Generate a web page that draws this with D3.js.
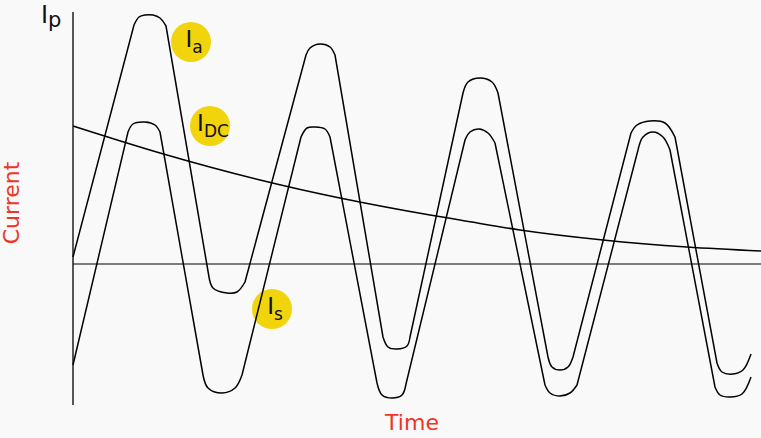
<!DOCTYPE html>
<html>
<head>
<meta charset="utf-8">
<script src="https://cdn.jsdelivr.net/npm/d3@7"></script>
<style>
  html, body { margin: 0; padding: 0; background: #f9f9f9; }
  svg { display: block; }
  text { font-family: "DejaVu Sans", sans-serif; }
</style>
</head>
<body>
<div id="container"></div>
<script>
// time (t) and current (i), arbitrary units
var iaTime = [0, 61, 66, 72, 80, 87, 93, 136, 140, 154, 164, 172, 233, 237, 247, 257, 262,
  310, 315, 324, 334, 337, 390, 395, 407, 419, 425, 475, 479, 487, 495, 500,
  558, 564, 577, 592, 602, 644, 649, 660, 670, 678];
var iaValue = [7, 239, 247, 249, 249, 246, 238, -13, -24, -29, -28, -18, 209, 216, 220, 217, 209,
  -73, -83, -85, -82, -73, 171, 182, 186, 182, 171, -93, -103, -106, -103, -93,
  131, 139, 143, 141, 127, -99, -108, -110, -106, -90];

var isTime = [0, 55, 60, 72, 82, 87, 130, 135, 149, 162, 169, 228, 234, 242, 252, 257,
  304, 309, 319, 329, 333, 392, 397, 406, 415, 422, 472, 477, 487, 497, 504,
  565, 570, 580, 590, 597, 642, 647, 657, 669, 678];
var isValue = [-101, 132, 140, 142, 139, 132, -111, -124, -129, -124, -111, 127, 136, 137, 135, 127,
  -119, -131, -134, -131, -120, 124, 132, 135, 131, 121, -121, -129, -132, -129, -121,
  114, 127, 132, 127, 114, -123, -131, -133, -130, -113];

var dcTime = [0, 87, 187, 357, 387, 447, 530, 614, 688];
var dcValue = [138, 111, 84, 49, 44, 34, 24, 17, 13];

// badges: main letter, subscript, position (t, i)
var badgeMain = ["I", "I", "I"];
var badgeSub = ["a", "DC", "s"];
var badgeTime = [118, 137, 199];
var badgeValue = [222, 138, -45];

const width = 761;
const height = 438;

const x = d3.scaleLinear().domain([0, 688]).range([73, 761]);
const y = d3.scaleLinear().domain([-141, 252]).range([405, 12]);

const svg = d3.select("#container").append("svg")
    .attr("width", width)
    .attr("height", height);

function zip(ts, vs) {
  return ts.map(function(t, k) { return [t, vs[k]]; });
}

// axes (no ticks)
svg.append("line")
  .attr("x1", x(0)).attr("x2", x(0))
  .attr("y1", y(252)).attr("y2", y(-141))
  .attr("stroke", "#000").attr("stroke-width", 1.3);
svg.append("line")
  .attr("x1", x(0)).attr("x2", x(688))
  .attr("y1", y(0)).attr("y2", y(0))
  .attr("stroke", "#000").attr("stroke-width", 1.2);

// yellow badges go under the curves
svg.selectAll("circle.badge")
  .data(badgeTime)
  .enter().append("circle")
  .attr("class", "badge")
  .attr("cx", function(d) { return x(d); })
  .attr("cy", function(d, k) { return y(badgeValue[k]); })
  .attr("r", 20)
  .attr("fill", "#f2d40c");

const cap = d3.line()
  .x(function(d) { return x(d[0]); })
  .y(function(d) { return y(d[1]); })
  .curve(d3.curveCatmullRom.alpha(0.5));

// straight flanks, rounded caps: points closer than 20 in time form one cap
function wavePath(pts) {
  var groups = [[pts[0]]];
  for (var k = 1; k < pts.length; k++) {
    if (pts[k][0] - pts[k - 1][0] < 20) groups[groups.length - 1].push(pts[k]);
    else groups.push([pts[k]]);
  }
  return groups.map(function(g, k) {
    var s = cap(g);
    return k === 0 ? s : "L" + s.slice(1);
  }).join("");
}

[zip(iaTime, iaValue), zip(isTime, isValue)].forEach(function(pts) {
  svg.append("path")
    .attr("d", wavePath(pts))
    .attr("fill", "none")
    .attr("stroke", "#000")
    .attr("stroke-width", 1.5)
    .attr("stroke-linejoin", "round");
});

svg.append("path")
  .attr("d", d3.line()
    .x(function(d) { return x(d[0]); })
    .y(function(d) { return y(d[1]); })
    .curve(d3.curveMonotoneX)(zip(dcTime, dcValue)))
  .attr("fill", "none")
  .attr("stroke", "#000")
  .attr("stroke-width", 1.5);

// badge texts
svg.selectAll("text.badge")
  .data(badgeMain)
  .enter().append("text")
  .attr("class", "badge")
  .attr("x", function(d, k) { return x(badgeTime[k]) + 3; })
  .attr("y", function(d, k) { return y(badgeValue[k]) + 5; })
  .attr("text-anchor", "middle")
  .attr("fill", "#111")
  .each(function(d, k) {
    d3.select(this).append("tspan").attr("font-size", 23).text(d);
    d3.select(this).append("tspan").attr("font-size", 17).attr("dy", 6).text(badgeSub[k]);
  });

// Ip at the top of the current axis
const ip = svg.append("text")
  .attr("x", 41)
  .attr("y", 23)
  .attr("fill", "#111");
ip.append("tspan").attr("font-size", 24).text("I");
ip.append("tspan").attr("font-size", 21).attr("dy", 4).text("p");

svg.append("text")
  .attr("transform", "translate(19," + 203 + ") rotate(-90)")
  .attr("text-anchor", "middle")
  .attr("font-size", 22)
  .attr("fill", "#ee3527")
  .text("Current");

svg.append("text")
  .attr("x", 412)
  .attr("y", 430)
  .attr("text-anchor", "middle")
  .attr("font-size", 22)
  .attr("fill", "#ee3527")
  .text("Time");
</script>
</body>
</html>
